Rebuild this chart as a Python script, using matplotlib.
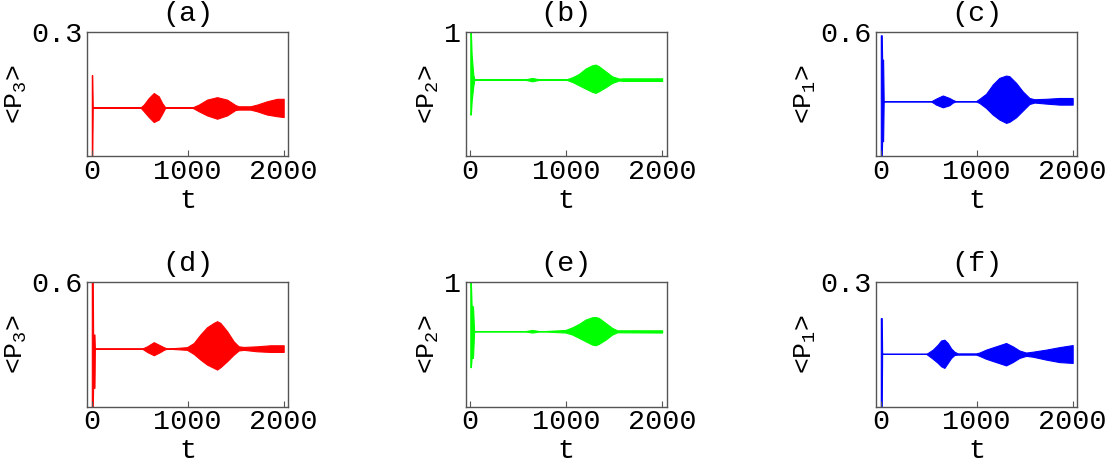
import matplotlib
matplotlib.use("Agg")
import matplotlib.pyplot as plt

plt.rcParams['font.family'] = ['Liberation Mono', 'DejaVu Sans']
plt.rcParams['mathtext.fontset'] = 'custom'
plt.rcParams['mathtext.rm'] = 'Liberation Mono'
plt.rcParams['mathtext.it'] = 'Liberation Mono'

# ---- data: envelopes (upper/lower) of the fast oscillations ----
t_a = [0, 5, 10, 507, 542, 594, 646, 698, 733, 767, 1045, 1115, 1201, 1306, 1410,
       1497, 1531, 1653, 1722, 1826, 1931, 2000]
up_a = [0.196, 0.196, 0.118, 0.118, 0.125, 0.141, 0.153, 0.145, 0.129, 0.118, 0.118,
        0.125, 0.137, 0.143, 0.137, 0.124, 0.121, 0.121, 0.125, 0.133, 0.139, 0.139]
lo_a = [0.0, 0.0, 0.118, 0.118, 0.109, 0.095, 0.083, 0.089, 0.103, 0.118, 0.118,
        0.109, 0.099, 0.091, 0.099, 0.112, 0.113, 0.113, 0.109, 0.101, 0.097, 0.095]

t_b = [0, 6, 14, 31, 42, 560, 646, 730, 993, 1063, 1132, 1201, 1271, 1306, 1340,
       1410, 1479, 1549, 1600, 2000]
up_b = [1.0, 1.0, 0.82, 0.66, 0.618, 0.618, 0.631, 0.618, 0.618, 0.636, 0.663, 0.706,
        0.733, 0.738, 0.725, 0.684, 0.644, 0.626, 0.628, 0.628]
lo_b = [0.337, 0.337, 0.444, 0.564, 0.618, 0.618, 0.604, 0.618, 0.618, 0.599, 0.572,
        0.545, 0.519, 0.511, 0.524, 0.556, 0.591, 0.610, 0.607, 0.607]

t_c = [0, 10, 14, 24, 30, 524, 576, 646, 715, 750, 785, 990, 1028, 1097, 1167, 1236,
       1306, 1340, 1410, 1479, 1549, 1601, 1722, 1861, 2000]
up_c = [0.584, 0.584, 0.467, 0.467, 0.266, 0.266, 0.279, 0.294, 0.282, 0.273, 0.266,
        0.266, 0.278, 0.302, 0.347, 0.379, 0.390, 0.387, 0.355, 0.314, 0.282, 0.276,
        0.278, 0.282, 0.282]
lo_c = [0.0, 0.0, 0.074, 0.074, 0.266, 0.266, 0.250, 0.237, 0.247, 0.260, 0.266,
        0.266, 0.258, 0.234, 0.202, 0.178, 0.162, 0.167, 0.189, 0.221, 0.253, 0.260,
        0.255, 0.250, 0.250]

t_d = [0, 10, 14, 28, 32, 524, 576, 646, 715, 750, 785, 993, 1063, 1132, 1201, 1271,
       1306, 1340, 1410, 1479, 1531, 1583, 1722, 1861, 2000]
up_d = [0.62, 0.62, 0.347, 0.347, 0.279, 0.279, 0.290, 0.310, 0.294, 0.286, 0.279,
        0.286, 0.306, 0.347, 0.382, 0.403, 0.411, 0.403, 0.363, 0.314, 0.290, 0.287,
        0.290, 0.295, 0.295]
lo_d = [0.0, 0.0, 0.090, 0.090, 0.279, 0.279, 0.263, 0.247, 0.263, 0.273, 0.279,
        0.273, 0.253, 0.226, 0.202, 0.186, 0.178, 0.189, 0.218, 0.250, 0.270, 0.273,
        0.266, 0.263, 0.263]

t_e = [0, 6, 14, 28, 40, 560, 646, 730, 993, 1063, 1132, 1201, 1271, 1306, 1340,
       1410, 1479, 1531, 2000]
up_e = [1.0, 1.0, 0.805, 0.805, 0.604, 0.604, 0.615, 0.604, 0.615, 0.636, 0.663,
        0.698, 0.717, 0.719, 0.711, 0.671, 0.631, 0.612, 0.612]
lo_e = [0.316, 0.316, 0.390, 0.390, 0.604, 0.604, 0.594, 0.604, 0.594, 0.578, 0.551,
        0.524, 0.497, 0.492, 0.503, 0.537, 0.578, 0.596, 0.594]

t_f = [0, 10, 14, 472, 490, 542, 594, 628, 663, 698, 733, 767, 802, 993, 1028, 1097,
       1201, 1306, 1375, 1444, 1514, 1583, 1722, 1861, 2000]
up_f = [0.213, 0.213, 0.127, 0.127, 0.129, 0.137, 0.149, 0.159, 0.161, 0.153, 0.140,
        0.132, 0.128, 0.128, 0.130, 0.137, 0.145, 0.153, 0.145, 0.135, 0.130, 0.132,
        0.137, 0.143, 0.148]
lo_f = [0.0, 0.0, 0.127, 0.127, 0.124, 0.115, 0.105, 0.097, 0.093, 0.105, 0.117,
        0.124, 0.125, 0.125, 0.122, 0.115, 0.107, 0.099, 0.107, 0.117, 0.122, 0.120,
        0.113, 0.107, 0.105]

titles = ['(a)', '(b)', '(c)', '(d)', '(e)', '(f)']
ylabels = ['<P$_3$>', '<P$_2$>', '<P$_1$>', '<P$_3$>', '<P$_2$>', '<P$_1$>']
ymaxs = [0.3, 1.0, 0.6, 0.6, 1.0, 0.3]
ymax_labels = ['0.3', '1', '0.6', '0.6', '1', '0.3']
colors = ['#ff0000', '#00ff00', '#0000ff', '#ff0000', '#00ff00', '#0000ff']
xticks = [0, 1000, 2000]
series = [(t_a, up_a, lo_a), (t_b, up_b, lo_b), (t_c, up_c, lo_c),
          (t_d, up_d, lo_d), (t_e, up_e, lo_e), (t_f, up_f, lo_f)]

W, H = 1112, 468
fig = plt.figure(figsize=(W / 100, H / 100), dpi=100)
lefts = [87, 465.5, 876]
tops = [32, 282]
aw, ah = 201, 124.5

fs = 20.5
for i in range(6):
    r, c = divmod(i, 3)
    l = lefts[c]
    tp = tops[r]
    ax = fig.add_axes([l / W, 1 - (tp + ah) / H, aw / W, ah / H])
    t, up, lo = series[i]
    ax.fill_between(t, lo, up, color=colors[i], edgecolor=colors[i], linewidth=0.8)
    ax.set_xlim(-50, 2045)
    ax.set_ylim(0, ymaxs[i])
    ax.set_xticks(xticks)
    ax.set_xticklabels([str(v) for v in xticks])
    ax.set_yticks([ymaxs[i]])
    ax.set_yticklabels([ymax_labels[i]])
    ax.tick_params(axis='x', direction='in', length=4, width=0.8, color='#555555',
                   labelsize=fs, pad=2)
    ax.tick_params(axis='y', length=0, labelsize=fs, pad=3)
    for s in ax.spines.values():
        s.set_color('#555555')
        s.set_linewidth(1.0)
    ax.set_title(titles[i], fontsize=fs, pad=8)
    ax.set_xlabel('t', fontsize=fs, labelpad=2)
    ax.set_ylabel(ylabels[i], fontsize=19, labelpad=2)

fig.savefig('out.png', dpi=100)
